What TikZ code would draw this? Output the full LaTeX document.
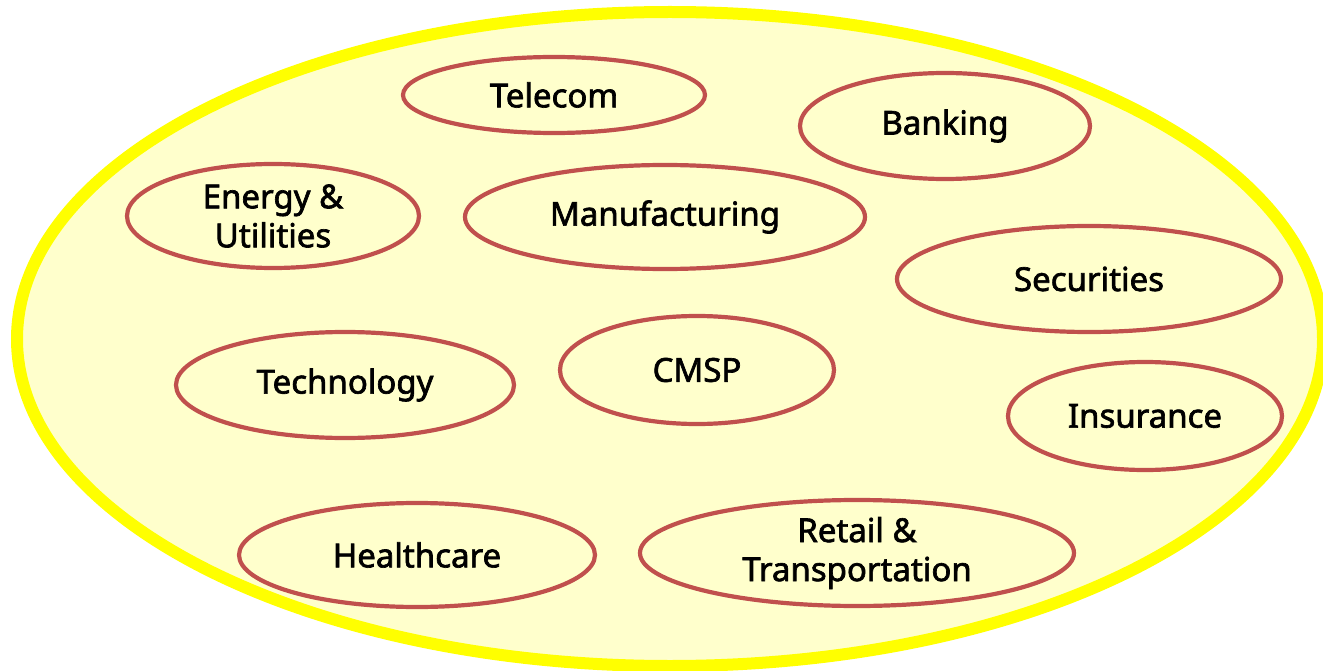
\documentclass[tikz,border=0pt]{standalone}
\usepackage{fontspec}
\setmainfont{Noto Sans}[BoldFont={Noto Sans},BoldFeatures={FakeBold=2}]
\usetikzlibrary{shapes.geometric}
\definecolor{outerline}{RGB}{255,255,0}
\definecolor{outerfill}{RGB}{255,255,204}
\definecolor{sectorline}{RGB}{192,80,77}
\tikzset{
  sector/.style={ellipse, draw=sectorline, line width=4.2pt, inner sep=0pt,
    align=center, font=\fontsize{33}{39}\selectfont\bfseries, text=black},
}
\newcommand{\sectornode}[6]{%
  \node[sector, minimum width=#4pt, minimum height=#5pt] (#1) at (#2,#3) {#6};}
\begin{document}
\begin{tikzpicture}[x=1pt,y=-1pt]
\useasboundingbox (0,0) rectangle (1323,671);
\node[ellipse, draw=outerline, fill=outerfill, line width=12pt, inner sep=0pt,
  minimum width=1306pt, minimum height=654pt] (domain) at (670,339) {};
\sectornode{telecom}{554}{95}{302}{76}{Telecom}
\sectornode{banking}{945}{126}{290}{106}{Banking}
\sectornode{energy}{273}{216}{292}{104}{Energy \&\\Utilities}
\sectornode{manufacturing}{665}{217}{400}{104}{Manufacturing}
\sectornode{securities}{1089}{279}{384}{106}{Securities}
\sectornode{technology}{345}{385}{338}{106}{Technology}
\sectornode{cmsp}{697}{370}{274}{108}{CMSP}
\sectornode{insurance}{1145}{416}{274}{108}{Insurance}
\sectornode{healthcare}{417}{555}{356}{104}{Healthcare}
\sectornode{retail}{857}{553}{434}{106}{Retail \&\\Transportation}
\end{tikzpicture}
\end{document}
